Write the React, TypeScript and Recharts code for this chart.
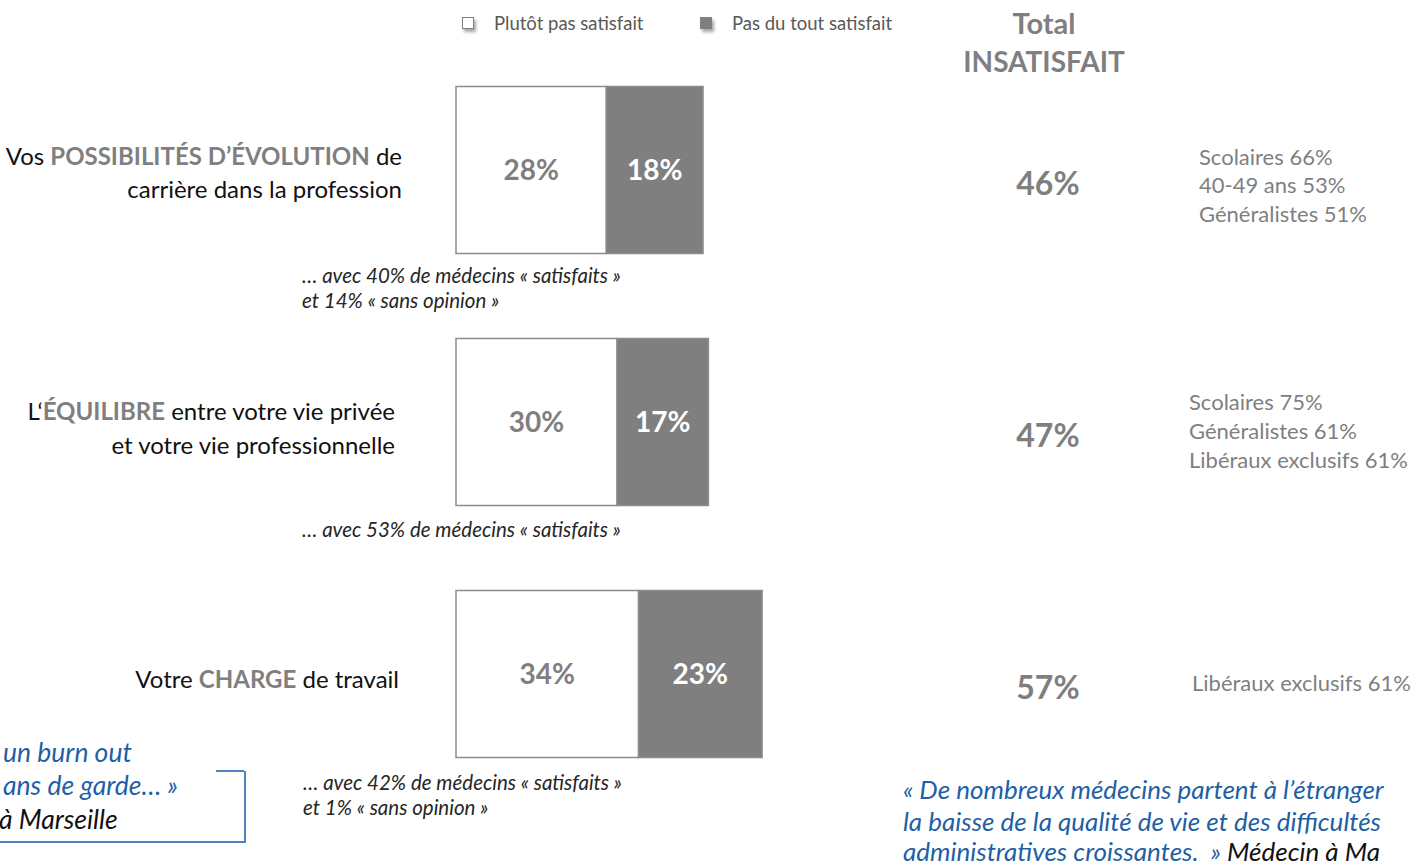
import { BarChart, Bar, XAxis, YAxis, LabelList } from "recharts";

type Part = { t: string; hl?: boolean };

const categories = ["evolution", "equilibre", "charge"];
const seriesNames = ["Plutôt pas satisfait", "Pas du tout satisfait"];
const plutotPas = [28, 30, 34];
const pasDuTout = [18, 17, 23];
const totals = [46, 47, 57];

const categoryLabels: Part[][][] = [
  [
    [{ t: "Vos " }, { t: "POSSIBILITÉS D’ÉVOLUTION", hl: true }, { t: " de" }],
    [{ t: "carrière dans la profession" }],
  ],
  [
    [{ t: "L‘" }, { t: "ÉQUILIBRE", hl: true }, { t: " entre votre vie privée" }],
    [{ t: "et votre vie professionnelle" }],
  ],
  [[{ t: "Votre " }, { t: "CHARGE", hl: true }, { t: " de travail" }]],
];

const subgroups = [
  ["Scolaires 66%", "40-49 ans 53%", "Généralistes 51%"],
  ["Scolaires 75%", "Généralistes 61%", "Libéraux exclusifs 61%"],
  ["Libéraux exclusifs 61%"],
];

const notes = [
  ["… avec 40% de médecins « satisfaits »", "et 14% « sans opinion »"],
  ["… avec 53% de médecins « satisfaits »"],
  ["… avec 42% de médecins « satisfaits »", "et 1% « sans opinion »"],
];

const data = categories.map((name, i) => ({
  name,
  plutot: plutotPas[i],
  pasDuTout: pasDuTout[i],
  total: totals[i],
}));

const FONT = "Lato, 'Open Sans', sans-serif";
const GREY = "#7f7f7f";
const BLUE = "#1f5fa6";

// layout helpers for the text blocks
const labelRight = [402, 395, 399];
const labelDy = [[-4.5, 28.5], [-1.5, 32], [14.5]];
const subgroupPos = [
  { x: 1199, y: 157, lh: 28.5 },
  { x: 1189, y: 402, lh: 29 },
  { x: 1192, y: 683, lh: 29 },
];
const notePos = [
  { x: 302, y: 275 },
  { x: 302, y: 529 },
  { x: 303, y: 782 },
];

const CategoryTick = (props: any) => {
  const { y, payload } = props;
  const idx = payload.index;
  const lines = categoryLabels[idx];
  return (
    <g>
      {lines.map((parts, li) => (
        <text
          key={li}
          x={labelRight[idx]}
          y={y + labelDy[idx][li]}
          textAnchor="end"
          fontSize={24}
          fontFamily={FONT}
          fill="#111"
        >
          {parts.map((p, pi) => (
            <tspan key={pi} fill={p.hl ? GREY : "#111"} fontWeight={p.hl ? 700 : 400}>
              {p.t}
            </tspan>
          ))}
        </text>
      ))}
    </g>
  );
};

const TotalLabel = (props: any) => {
  const { y, height, value } = props;
  return (
    <text
      x={1048}
      y={y + height / 2 + 12}
      textAnchor="middle"
      dominantBaseline="central"
      fontSize={32}
      fontWeight={700}
      fontFamily={FONT}
      fill={GREY}
    >
      {value}%
    </text>
  );
};

const Txt = ({ x, y, size, children, style }: any) => (
  <div
    style={{
      position: "absolute",
      left: x,
      top: y - size * 0.6,
      fontSize: size,
      lineHeight: `${size * 1.2}px`,
      whiteSpace: "nowrap",
      ...style,
    }}
  >
    {children}
  </div>
);

export default function App() {
  return (
    <div
      style={{
        position: "fixed",
        left: 0,
        top: 0,
        width: 1411,
        height: 868,
        overflow: "hidden",
        background: "#fff",
        fontFamily: FONT,
      }}
    >
      <BarChart
        width={1411}
        height={868}
        data={data}
        layout="vertical"
        margin={{ top: 43.5, bottom: 68.5, left: 56, right: 418 }}
        barSize={167}
      >
        <XAxis type="number" domain={[0, 100]} hide />
        <YAxis
          type="category"
          dataKey="name"
          width={400}
          axisLine={false}
          tickLine={false}
          tick={<CategoryTick />}
        />
        <Bar
          dataKey="plutot"
          name={seriesNames[0]}
          stackId="a"
          fill="#ffffff"
          stroke="#8c8c8c"
          strokeWidth={1.5}
          isAnimationActive={false}
        >
          <LabelList
            dataKey="plutot"
            position="center"
            formatter={(v: any) => `${v}%`}
            fill={GREY}
            fontSize={28}
            fontWeight={700}
            fontFamily={FONT}
          />
        </Bar>
        <Bar
          dataKey="pasDuTout"
          name={seriesNames[1]}
          stackId="a"
          fill={GREY}
          stroke="#8c8c8c"
          strokeWidth={1.5}
          isAnimationActive={false}
        >
          <LabelList
            dataKey="pasDuTout"
            position="center"
            formatter={(v: any) => `${v}%`}
            fill="#ffffff"
            fontSize={28}
            fontWeight={700}
            fontFamily={FONT}
          />
          <LabelList dataKey="total" content={<TotalLabel />} />
        </Bar>
      </BarChart>

      {/* legend */}
      <div style={{ position: "absolute", left: 456, top: 12, display: "flex" }}>
        {seriesNames.map((n, i) => (
          <div key={n} style={{ width: 238, display: "flex", alignItems: "center" }}>
            <span
              style={{
                display: "inline-block",
                width: 10,
                height: 10,
                marginLeft: 6,
                marginRight: 20,
                background: i === 0 ? "#fff" : GREY,
                border: `1px solid ${GREY}`,
                boxShadow: "2px 3px 3px rgba(0,0,0,0.35)",
              }}
            />
            <span style={{ fontSize: 18.5, color: "#595959" }}>{n}</span>
          </div>
        ))}
      </div>

      {/* header */}
      <Txt x={944} y={23} size={29} style={{ width: 200, textAlign: "center", fontWeight: 700, color: GREY }}>
        Total
      </Txt>
      <Txt x={944} y={62} size={28} style={{ width: 200, textAlign: "center", fontWeight: 700, color: GREY }}>
        INSATISFAIT
      </Txt>

      {/* subgroups */}
      {subgroups.map((lines, i) =>
        lines.map((l, j) => (
          <Txt key={`${i}-${j}`} x={subgroupPos[i].x} y={subgroupPos[i].y + j * subgroupPos[i].lh} size={22} style={{ color: GREY }}>
            {l}
          </Txt>
        ))
      )}

      {/* notes */}
      {notes.map((lines, i) =>
        lines.map((l, j) => (
          <Txt key={`n${i}-${j}`} x={notePos[i].x} y={notePos[i].y + j * 25} size={20.5} style={{ fontStyle: "italic", color: "#262626" }}>
            {l}
          </Txt>
        ))
      )}

      {/* bottom-left quote */}
      <div style={{ position: "absolute", left: -2, top: 771, width: 246, height: 70, borderRight: "2px solid #4f81bd", borderBottom: "2px solid #4f81bd" }} />
      <div style={{ position: "absolute", left: 216, top: 770, width: 28, height: 0, borderTop: "2px solid #4f81bd" }} />
      <Txt x={3} y={753} size={26.5} style={{ fontStyle: "italic", color: BLUE }}>un burn out</Txt>
      <Txt x={3} y={786} size={26.5} style={{ fontStyle: "italic", color: BLUE }}>ans de garde… »</Txt>
      <Txt x={-1} y={820} size={26.5} style={{ fontStyle: "italic", color: "#111" }}>à Marseille</Txt>

      {/* bottom-right quote */}
      <Txt x={903} y={790} size={26} style={{ fontStyle: "italic", color: BLUE }}>
        « De nombreux médecins partent à l’étranger
      </Txt>
      <Txt x={903} y={822} size={26} style={{ fontStyle: "italic", color: BLUE }}>
        la baisse de la qualité de vie et des difficultés
      </Txt>
      <Txt x={903} y={852} size={26} style={{ fontStyle: "italic", color: BLUE }}>
        administratives croissantes.&nbsp; » <span style={{ color: "#111" }}>Médecin à Ma</span>
      </Txt>
    </div>
  );
}
